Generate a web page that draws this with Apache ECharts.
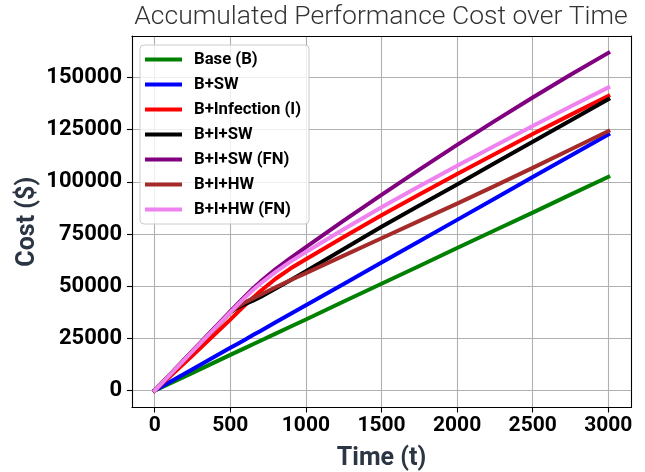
<!DOCTYPE html>
<html><head><meta charset="utf-8">
<script src="https://cdn.jsdelivr.net/npm/echarts@6/dist/echarts.min.js"></script>
<style>html,body{margin:0;padding:0;background:#fff}#c{width:645px;height:472px}</style>
</head><body><div id="c"></div>
<script>
const time = [0, 250, 500, 550, 600, 650, 700, 800, 900, 1000, 1250, 1500, 1750, 2000, 2250, 2500, 2750, 3000];
const seriesNames = ['Base (B)', 'B+SW', 'B+Infection (I)', 'B+I+SW', 'B+I+SW (FN)', 'B+I+HW', 'B+I+HW (FN)'];
const baseB   = [0, 8500, 17100, 18800, 20500, 22200, 23900, 27300, 30700, 34100, 42700, 51200, 59700, 68300, 76800, 85300, 93900, 102400];
const bSW     = [0, 10200, 20500, 22500, 24500, 26600, 28600, 32700, 36800, 40900, 51100, 61400, 71600, 81800, 92000, 102300, 112500, 122700];
const bInf    = [0, 16800, 34000, 37600, 41100, 44500, 47700, 53600, 58600, 62900, 73600, 84000, 94000, 103800, 113400, 122900, 132100, 141200];
const bISW    = [0, 18750, 37500, 39900, 41500, 43100, 44900, 48900, 53000, 57200, 67800, 78500, 88700, 98700, 109000, 119200, 129400, 139600];
const bISWFN  = [0, 19000, 38000, 41700, 45400, 48900, 52200, 58200, 63600, 68700, 81400, 93800, 105900, 117700, 129200, 140400, 151300, 161800];
const bIHW    = [0, 18750, 37500, 40300, 42400, 44200, 45900, 49500, 53000, 56300, 64700, 73000, 81300, 89600, 98100, 106700, 115500, 124300];
const bIHWFN  = [0, 18750, 37500, 41200, 44800, 48200, 51300, 56900, 61900, 66400, 77300, 87800, 97900, 107700, 117300, 126800, 136100, 145200];
const xTicks = [0, 500, 1000, 1500, 2000, 2500, 3000];
const yTicks = [0, 25000, 50000, 75000, 100000, 125000, 150000];

const values = [baseB, bSW, bInf, bISW, bISWFN, bIHW, bIHWFN];
const colors = ['#008000', '#0000ff', '#ff0000', '#000000', '#800080', '#a52a2a', '#ee82ee'];

const chart = echarts.init(document.getElementById('c'), null, {renderer: 'canvas'});
const FONT = 'Roboto';
const boxAxis = {
  axisLine: {show: true, onZero: false, lineStyle: {color: '#000', width: 1.1}},
  axisTick: {show: false}, axisLabel: {show: false}, splitLine: {show: false}, z: 10
};
const option = {
  animation: false,
  backgroundColor: '#ffffff',
  title: {
    text: 'Accumulated Performance Cost over Time',
    left: 381, top: 4, padding: 0, textAlign: 'center',
    textStyle: {fontFamily: FONT, fontWeight: 300, fontSize: 26.5, color: '#333333'}
  },
  grid: {left: 132, right: 14, top: 36, bottom: 64.5, outerBoundsMode: 'none', containLabel: false},
  legend: {
    orient: 'vertical', left: 140, top: 45, z: 20,
    padding: [6, 8, 6, 5],
    itemWidth: 37, itemHeight: 4, itemGap: 8,
    icon: 'rect',
    backgroundColor: 'rgba(255,255,255,0.8)',
    borderColor: '#cccccc', borderWidth: 1, borderRadius: 4,
    textStyle: {fontFamily: FONT, fontWeight: 'bold', fontSize: 16.7, lineHeight: 17, color: '#000', padding: [0, 0, 0, 7]},
    data: seriesNames
  },
  xAxis: [{
    type: 'value', min: -150, max: 3150, interval: 500,
    name: 'Time (t)', nameLocation: 'middle', nameGap: 39, nameMoveOverlap: false,
    nameTextStyle: {fontFamily: FONT, fontWeight: 'bold', fontSize: 25, color: '#2b3544'},
    axisLine: {show: true, onZero: false, lineStyle: {color: '#000', width: 1.1}},
    axisTick: {show: true, inside: false, length: 5, lineStyle: {color: '#000', width: 1.1}, customValues: xTicks},
    axisLabel: {margin: 8, fontFamily: FONT, fontWeight: 'bold', fontSize: 21, color: '#000', customValues: xTicks, formatter: v => String(v)},
    splitLine: {show: true, lineStyle: {color: '#b0b0b0', width: 1.1}}
  }, Object.assign({type: 'value', min: -150, max: 3150, position: 'top'}, boxAxis)],
  yAxis: [{
    type: 'value', min: -8090, max: 169890, interval: 25000,
    name: 'Cost ($)', nameLocation: 'middle', nameGap: 92, nameMoveOverlap: false,
    nameTextStyle: {fontFamily: FONT, fontWeight: 'bold', fontSize: 25, color: '#2b3544'},
    axisLine: {show: true, onZero: false, lineStyle: {color: '#000', width: 1.1}},
    axisTick: {show: true, inside: false, length: 5, lineStyle: {color: '#000', width: 1.1}, customValues: yTicks},
    axisLabel: {margin: 10, fontFamily: FONT, fontWeight: 'bold', fontSize: 22, color: '#000', customValues: yTicks, formatter: v => String(v)},
    splitLine: {show: true, lineStyle: {color: '#b0b0b0', width: 1.1}}
  }, Object.assign({type: 'value', min: -8090, max: 169890, position: 'right'}, boxAxis)],
  series: seriesNames.map((n, i) => ({
    name: n, type: 'line', showSymbol: false, symbol: 'none',
    xAxisIndex: 0, yAxisIndex: 0,
    data: time.map((t, j) => [t, values[i][j]]),
    lineStyle: {color: colors[i], width: 4, cap: 'square', join: 'round'},
    itemStyle: {color: colors[i]},
    z: 2 + i
  }))
};
chart.setOption(option);
</script>
</body></html>
